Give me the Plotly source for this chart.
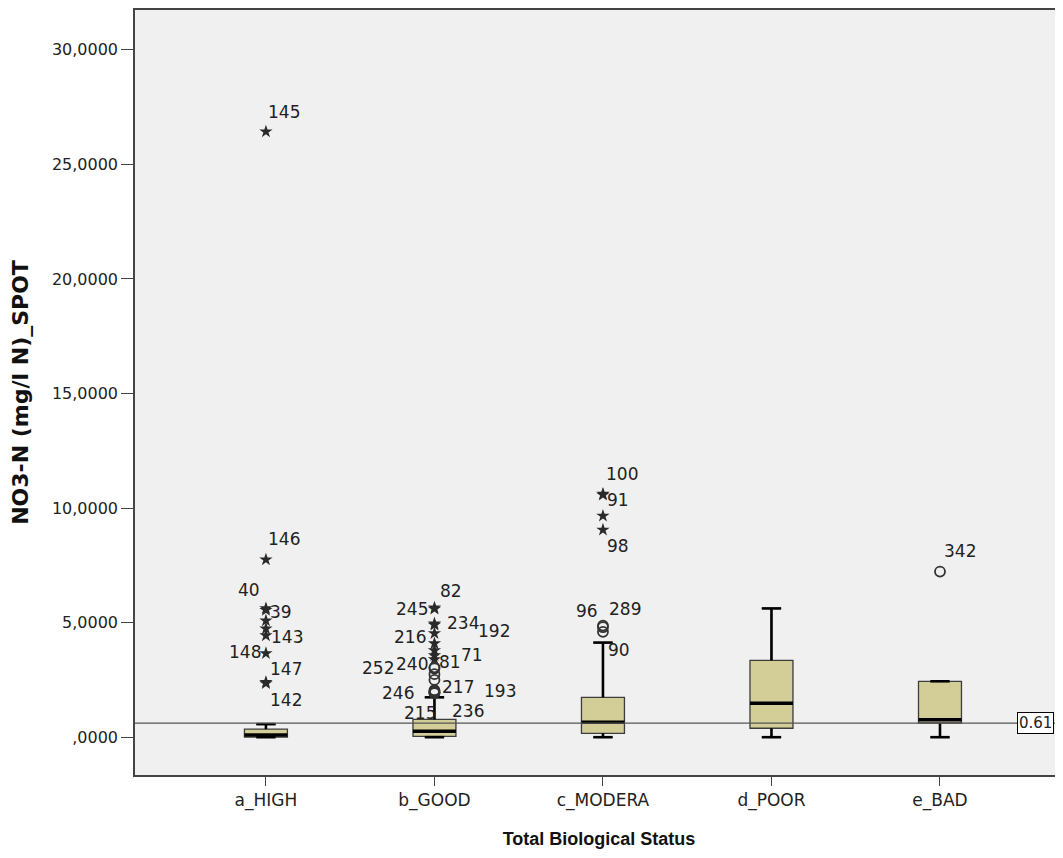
import plotly.graph_objects as go

categories = ["a_HIGH", "b_GOOD", "c_MODERA", "d_POOR", "e_BAD"]
q1 = [0.00, 0.04, 0.17, 0.39, 0.62]
medians = [0.10, 0.26, 0.65, 1.48, 0.76]
q3 = [0.35, 0.78, 1.74, 3.35, 2.44]
lower_whisker = [0.0, 0.0, 0.0, 0.0, 0.0]
upper_whisker = [0.57, 1.74, 4.13, 5.62, 2.44]

# outliers per group: value, case id, kind (star = extreme, circle = outlier)
out_values = [
    [26.43, 7.75, 5.62, 5.55, 5.09, 4.74, 4.44, 3.66, 2.40, 2.35],
    [5.65, 5.60, 4.96, 4.90, 4.53, 4.09, 3.79, 3.57, 3.40, 3.05, 3.00, 2.75, 2.50, 2.05, 2.00, 1.95, 1.94, 1.93],
    [10.62, 10.58, 9.66, 9.05, 4.87, 4.80, 4.60],
    [],
    [7.23],
]
out_ids = [
    ["145", "146", "40", "39", "", "", "143", "148", "147", "142"],
    ["82", "245", "234", "192", "216", "", "", "71", "81", "240", "252", "", "", "217", "193", "246", "215", "236"],
    ["100", "91", "", "98", "96", "289", "90"],
    [],
    ["342"],
]
out_kinds = [
    ["star"] * 10,
    ["star"] * 9 + ["circle"] * 9,
    ["star"] * 4 + ["circle"] * 3,
    [],
    ["circle"],
]
ref_value = 0.61
ref_label = "0.61"

# label offsets in pixels (dx right, dy down) relative to the marker
label_offsets = {
    "145": (18, -20), "146": (18, -21), "40": (-17, -18), "39": (15, 2),
    "143": (21, 2), "148": (-21, -1), "147": (20, -13), "142": (20, 17),
    "82": (17, -17), "245": (-22, 0), "234": (29, -1), "192": (60, 6),
    "216": (-24, 4), "71": (38, 0), "81": (16, 3), "240": (-22, -3),
    "252": (-56, 0), "217": (24, -3), "193": (66, 0), "246": (-36, 0),
    "215": (-14, 20), "236": (34, 18),
    "100": (19, -20), "91": (15, 5), "98": (15, 16),
    "96": (-16, -15), "289": (22, -18), "90": (16, 18),
    "342": (20, -21),
}

# the page body has an 8px margin, so the figure is 8px smaller than the window
W, H = 1055, 850
ML, MR, MT, MB = 127, 0, 0, 83
box_w = 0.255
half = box_w / 2
FONT = "DejaVu Sans, Liberation Sans, Arial"

fig = go.Figure()

for i, cat in enumerate(categories):
    fig.add_trace(go.Box(
        x=[i], q1=[q1[i]], median=[medians[i]], q3=[q3[i]],
        lowerfence=[lower_whisker[i]], upperfence=[upper_whisker[i]],
        width=box_w, whiskerwidth=0.45, boxpoints=False,
        fillcolor="#D3CE98", line=dict(color="#3c3c3c", width=1.3),
        showlegend=False, hoverinfo="skip",
    ))
    cap = half * 0.45
    wx = [i, i, None, i, i, None, i - cap, i + cap, None, i - cap, i + cap]
    wy = [q3[i], upper_whisker[i], None, q1[i], lower_whisker[i], None,
          upper_whisker[i], upper_whisker[i], None, lower_whisker[i], lower_whisker[i]]
    fig.add_trace(go.Scatter(x=wx, y=wy, mode="lines",
                             line=dict(color="black", width=2.6),
                             showlegend=False, hoverinfo="skip"))
    fig.add_trace(go.Scatter(x=[i - half, i + half], y=[medians[i], medians[i]],
                             mode="lines", line=dict(color="black", width=3.5),
                             showlegend=False, hoverinfo="skip"))

for i in range(len(categories)):
    for kind, sym, mk in [("star", "star", dict(color="#2a2a2a", size=10, line=dict(width=0))),
                          ("circle", "circle-open", dict(color="#333", size=10, line=dict(width=1.8)))]:
        ys = [v for v, k in zip(out_values[i], out_kinds[i]) if k == kind]
        if ys:
            fig.add_trace(go.Scatter(x=[i] * len(ys), y=ys, mode="markers",
                                     marker=dict(symbol=sym, **mk),
                                     showlegend=False, hoverinfo="skip"))
    for v, lab in zip(out_values[i], out_ids[i]):
        if not lab:
            continue
        dx, dy = label_offsets[lab]
        fig.add_annotation(x=i, y=v, text=lab, showarrow=False,
                           xshift=dx, yshift=-dy,
                           font=dict(family=FONT, size=17, color="#222"))

fig.add_shape(type="line", xref="paper", x0=0, x1=1, y0=ref_value, y1=ref_value,
              line=dict(color="#555", width=1.2))
fig.add_annotation(xref="paper", x=1, y=ref_value, xanchor="right", xshift=-9,
                   text=ref_label, showarrow=False, bgcolor="white", bordercolor="black",
                   borderwidth=1, borderpad=1,
                   font=dict(family=FONT, size=15, color="#222"))

yt = [0, 5, 10, 15, 20, 25, 30]
yt_text = [",0000", "5,0000", "10,0000", "15,0000", "20,0000", "25,0000", "30,0000"]

fig.update_layout(
    width=W, height=H,
    margin=dict(l=ML, r=MR, t=MT, b=MB),
    paper_bgcolor="white", plot_bgcolor="#F0F0F0",
    xaxis=dict(range=[-0.777, 4.73], tickvals=list(range(len(categories))), ticktext=categories,
               showgrid=False, zeroline=False, showline=True, linecolor="#444", linewidth=1.5,
               mirror=True, ticks="outside", ticklen=9, tickcolor="#444",
               tickfont=dict(family=FONT, size=17, color="#222"),
               title=dict(text="<b>Total Biological Status</b>", standoff=22,
                          font=dict(family="Liberation Sans, Arial", size=18, color="#111"))),
    yaxis=dict(range=[-1.65, 31.74], tickvals=yt, ticktext=yt_text,
               showgrid=False, zeroline=False, showline=True, linecolor="#444", linewidth=1.5,
               ticks="outside", ticklen=12, tickcolor="#444",
               tickfont=dict(family=FONT, size=16, color="#222"),
               title=dict(text="<b>NO3-N (mg/l N)_SPOT</b>", standoff=24,
                          font=dict(family=FONT, size=22, color="#111"))),
)

fig.write_html("out.html")
